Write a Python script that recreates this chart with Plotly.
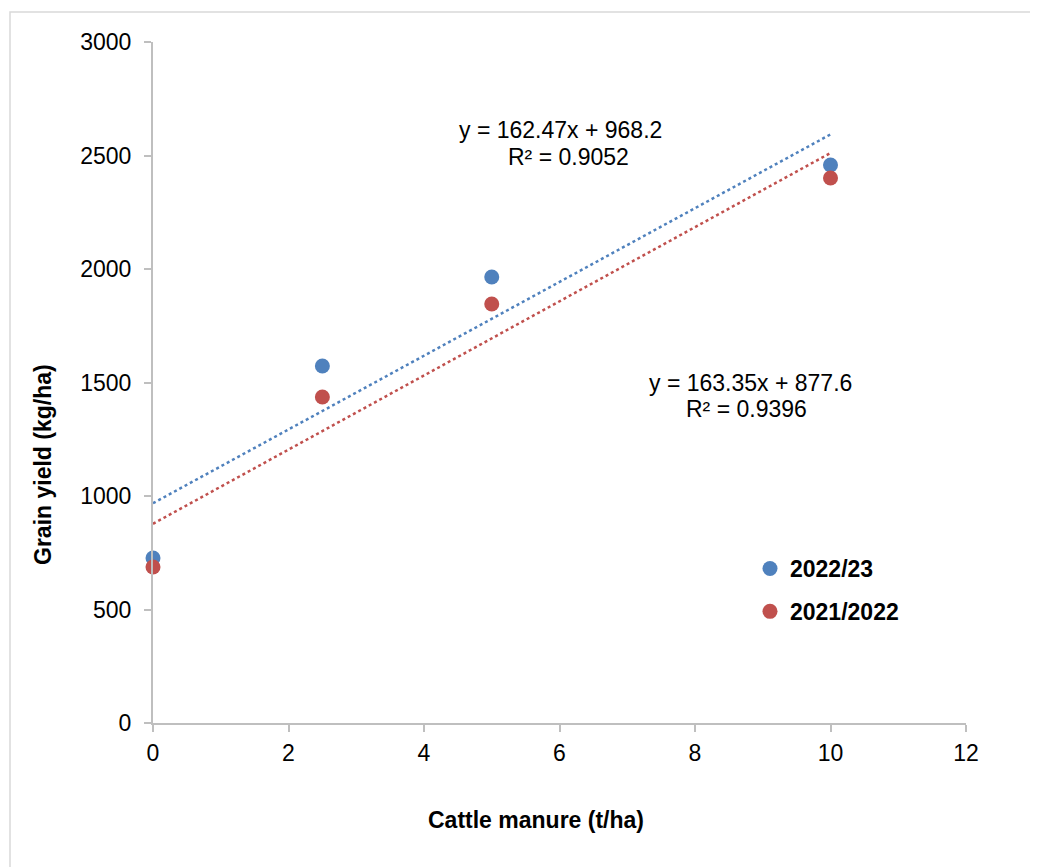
import plotly.graph_objects as go

# ---- data ----
manure = [0, 2.5, 5, 10]
yield_2022_23 = [727, 1573, 1965, 2458]
yield_2021_22 = [687, 1436, 1846, 2401]
series_names = ["2022/23", "2021/2022"]
trend_slope = [162.47, 163.35]
trend_intercept = [968.2, 877.6]
r_squared = [0.9052, 0.9396]
x_ticks = [0, 2, 4, 6, 8, 10, 12]
y_ticks = [0, 500, 1000, 1500, 2000, 2500, 3000]

BLUE = "#4F81BD"
RED = "#C0504D"
FONT = "Liberation Sans, Arial, sans-serif"

OFF = 8  # page body margin
W, H = 1030, 859
L, T = 153 - OFF, 42 - OFF
R = W - (966 - OFF)
B = H - (723 - OFF)
pw, ph = W - L - R, H - T - B

def px_x(px):
    return (px - OFF - L) / pw

def px_y(py):
    return (H - B - (py - OFF)) / ph

fig = go.Figure()

colors = [BLUE, RED]
ys = [yield_2022_23, yield_2021_22]

# trend lines
for i in range(2):
    xs = [manure[0], manure[-1]]
    fig.add_trace(go.Scatter(
        x=xs, y=[trend_slope[i] * v + trend_intercept[i] for v in xs],
        mode="lines", line=dict(color=colors[i], width=2.5, dash="dot"),
        showlegend=False, hoverinfo="skip", cliponaxis=False))

# data points
for i in range(2):
    fig.add_trace(go.Scatter(
        x=manure, y=ys[i], mode="markers", name=series_names[i],
        marker=dict(color=colors[i], size=15),
        cliponaxis=False, legendgroup=series_names[i]))

def eq_text(i):
    return f"y = {trend_slope[i]}x + {trend_intercept[i]}"

ann = [
    dict(text=eq_text(0), x=px_x(560), y=px_y(130)),
    dict(text=f"R² = {r_squared[0]}", x=px_x(568), y=px_y(157)),
    dict(text=eq_text(1), x=px_x(750), y=px_y(383)),
    dict(text=f"R² = {r_squared[1]}", x=px_x(746), y=px_y(409)),
]
annotations = []
for a in ann:
    annotations.append(dict(xref="paper", yref="paper", showarrow=False,
                            xanchor="center", yanchor="middle",
                            font=dict(family=FONT, size=23, color="#000000"), **a))

annotations.append(dict(xref="paper", yref="paper", showarrow=False,
                        text="<b>Cattle manure (t/ha)</b>", x=px_x(536), y=px_y(820),
                        xanchor="center", yanchor="middle",
                        font=dict(family=FONT, size=23, color="#000000")))
annotations.append(dict(xref="paper", yref="paper", showarrow=False,
                        text="<b>Grain yield (kg/ha)</b>", x=px_x(43), y=px_y(465),
                        xanchor="center", yanchor="middle", textangle=-90,
                        font=dict(family=FONT, size=23, color="#000000")))

axis_common = dict(showgrid=False, zeroline=False, showline=True,
                   linecolor="#BFBFBF", linewidth=2, ticks="outside",
                   tickcolor="#BFBFBF", ticklen=7, tickwidth=2,
                   tickfont=dict(family=FONT, size=23, color="#000000"))

fig.update_layout(
    width=W, height=H,
    margin=dict(l=L, r=R, t=T, b=B),
    paper_bgcolor="white", plot_bgcolor="white",
    xaxis=dict(range=[0, 12], tickvals=x_ticks, ticklabelstandoff=1, **axis_common),
    yaxis=dict(range=[0, 3000], tickvals=y_ticks, ticklabelstandoff=8, **axis_common),
    annotations=annotations,
    showlegend=True,
    legend=dict(x=px_x(750), y=px_y(547), xanchor="left", yanchor="top",
                bgcolor="rgba(0,0,0,0)", tracegroupgap=10,
                font=dict(family=FONT, size=23, color="#000000", weight="bold"),
                itemwidth=30),
    shapes=[dict(type="rect", xref="paper", yref="paper",
                 x0=px_x(10), x1=px_x(1045), y0=px_y(875), y1=px_y(12),
                 line=dict(color="#D9D9D9", width=1.5), fillcolor="rgba(0,0,0,0)",
                 layer="below")],
)

fig.write_html("out.html")
